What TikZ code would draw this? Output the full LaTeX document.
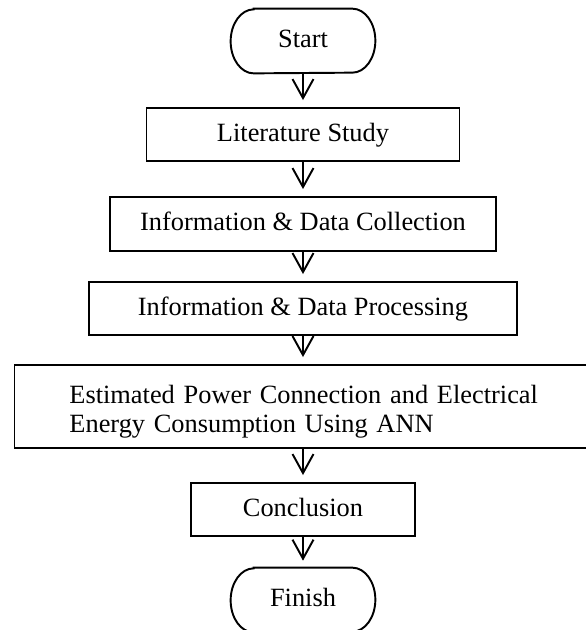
\documentclass[tikz,border=0pt]{standalone}
\usepackage{fontspec}
\setmainfont{Liberation Serif}
\usetikzlibrary{arrows.meta}

% outline of a start/finish terminal, drawn round a named node
\newcommand{\terminaloutline}[1]{%
  \draw[line width=1.1pt] ([xshift=0.46cm]#1.north west) -- ([xshift=-0.46cm]#1.north east)
    arc[start angle=90, end angle=-90, x radius=0.46cm, y radius=0.64cm]
    -- ([xshift=0.46cm]#1.south west)
    arc[start angle=270, end angle=90, x radius=0.46cm, y radius=0.64cm] -- cycle;}

\begin{document}
\begin{tikzpicture}[
  stepbox/.style={draw, line width=1.1pt, minimum height=1.06cm, align=center,
    text height=0.75em, text depth=0pt, font=\fontsize{15}{17}\selectfont},
  terminal/.style={inner sep=0pt, minimum width=2.88cm, minimum height=1.28cm,
    text height=0.75em, text depth=0pt, font=\fontsize{15}{17}\selectfont},
  arrow/.style={-{Straight Barb[length=0.38cm, width=0.42cm]}, line width=1.1pt, shorten >=0.14cm}
]
  \useasboundingbox (0,0) rectangle (11.72,-12.6);
  \clip (0,0) rectangle (11.72,-12.6);

  % Terminals
  \node[terminal] (start) at (6.06, -0.82) {Start};
  \terminaloutline{start}

  % Process steps
  \node[stepbox, minimum width=6.26cm] (lit) at (6.06, -2.69) {Literature Study};
  \node[stepbox, minimum width=7.72cm, minimum height=1.08cm] (coll) at (6.06, -4.48) {Information \& Data Collection};
  \node[stepbox, minimum width=8.56cm] (proc) at (6.06, -6.17) {Information \& Data Processing};
  \node[stepbox, anchor=west, minimum height=1.66cm, inner xsep=1.1cm,
    text width=10cm, align=left, text height=0.46cm, text depth=0.6cm] (est) at (0.27, -8.13)
    {Estimated Power Connection and Electrical\\ Energy Consumption Using ANN};
  \node[stepbox, minimum width=4.48cm] (concl) at (6.06, -10.19) {Conclusion};

  \node[terminal] (finish) at (6.06, -12.0) {Finish};
  \terminaloutline{finish}

  % Flow arrows
  \draw[arrow] (start.south) -- (lit.north);
  \draw[arrow] (lit.south) -- (coll.north);
  \draw[arrow] (coll.south) -- (proc.north);
  \draw[arrow] (proc.south) -- (proc.south |- est.north);
  \draw[arrow] (est.south -| concl.north) -- (concl.north);
  \draw[arrow] (concl.south) -- (finish.north);
\end{tikzpicture}
\end{document}
